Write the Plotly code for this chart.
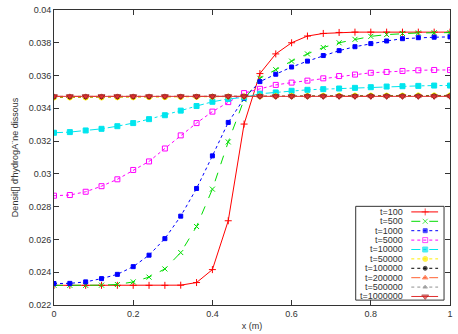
import plotly.graph_objects as go

x = [round(i * 0.04, 2) for i in range(26)]

t100 = [0.02320, 0.02320, 0.02320, 0.02320, 0.02320, 0.02320, 0.02320, 0.02320, 0.02321, 0.02337,
        0.02416, 0.02714, 0.03304, 0.03612, 0.03732, 0.03800, 0.03841, 0.03857, 0.03863, 0.03865,
        0.03865, 0.03865, 0.03865, 0.03865, 0.03865, 0.03865]
t500 = [0.02320, 0.02320, 0.02320, 0.02321, 0.02325, 0.02341, 0.02370, 0.02420, 0.02520, 0.02679,
        0.02907, 0.03195, 0.03453, 0.03583, 0.03636, 0.03688, 0.03732, 0.03771, 0.03800, 0.03821,
        0.03839, 0.03850, 0.03857, 0.03860, 0.03861, 0.03862]
t1000 = [0.02331, 0.02332, 0.02341, 0.02361, 0.02387, 0.02434, 0.02504, 0.02605, 0.02742, 0.02911,
         0.03110, 0.03314, 0.03460, 0.03563, 0.03608, 0.03652, 0.03688, 0.03722, 0.03752, 0.03776,
         0.03795, 0.03811, 0.03825, 0.03831, 0.03834, 0.03836]
t5000 = [0.02867, 0.02871, 0.02891, 0.02925, 0.02967, 0.03024, 0.03076, 0.03155, 0.03235, 0.03310,
         0.03380, 0.03438, 0.03493, 0.03519, 0.03543, 0.03557, 0.03569, 0.03583, 0.03597, 0.03606,
         0.03617, 0.03622, 0.03628, 0.03632, 0.03634, 0.03634]
t10000 = [0.03251, 0.03255, 0.03265, 0.03275, 0.03291, 0.03310, 0.03334, 0.03358, 0.03386, 0.03414,
          0.03440, 0.03457, 0.03467, 0.03489, 0.03497, 0.03507, 0.03513, 0.03517, 0.03521, 0.03525,
          0.03529, 0.03533, 0.03535, 0.03537, 0.03539, 0.03539]
t50000 = [0.03466, 0.03466, 0.03466, 0.03466, 0.03467, 0.03467, 0.03468, 0.03468, 0.03469, 0.03470,
          0.03471, 0.03472, 0.03473, 0.03474, 0.03475, 0.03476, 0.03476, 0.03477, 0.03477, 0.03478,
          0.03478, 0.03478, 0.03478, 0.03479, 0.03479, 0.03479]
t100000 = [0.03470, 0.03470, 0.03470, 0.03470, 0.03471, 0.03471, 0.03471, 0.03472, 0.03472, 0.03472,
           0.03473, 0.03473, 0.03473, 0.03474, 0.03474, 0.03474, 0.03475, 0.03475, 0.03475, 0.03475,
           0.03476, 0.03476, 0.03476, 0.03476, 0.03476, 0.03476]
t200000 = [0.03473] * 26
t500000 = [0.03473] * 26
t1000000 = [0.03473] * 26

labels = ["t=100", "t=500", "t=1000", "t=5000", "t=10000", "t=50000",
          "t=100000", "t=200000", "t=500000", "t=1000000"]
series = [t100, t500, t1000, t5000, t10000, t50000, t100000, t200000, t500000, t1000000]

styles = [
    dict(color="#ff0000", dash="solid", symbol="cross-thin-open", size=5),
    dict(color="#00dd00", dash="dash", symbol="x-thin-open", size=5),
    dict(color="#0000ff", dash="dot", symbol="square", size=4),
    dict(color="#ff00ff", dash="dot", symbol="square-open", size=5),
    dict(color="#00e5ee", dash="dashdot", symbol="square", size=5),
    dict(color="#ffee00", dash="dot", symbol="circle", size=5),
    dict(color="#000000", dash="dot", symbol="circle", size=4),
    dict(color="#ff6030", dash="dashdot", symbol="triangle-up", size=5),
    dict(color="#909090", dash="dot", symbol="triangle-up", size=4),
    dict(color="#e03030", dash="solid", symbol="triangle-down", size=6),
]


def make_marker(st, size):
    m = dict(symbol=st["symbol"], size=size, color=st["color"],
             line=dict(color=st["color"], width=1))
    if st["symbol"] == "triangle-down":
        m["line"] = dict(color="#a02020", width=1)
    return m


fig = go.Figure()
for lab, ys, st in zip(labels, series, styles):
    fig.add_trace(go.Scatter(
        x=x, y=ys, name=lab, mode="lines+markers", showlegend=False,
        line=dict(color=st["color"], width=1, dash=st["dash"]),
        marker=make_marker(st, st["size"]),
    ))

# hand-built gnuplot-style legend (text right-aligned, sample on the right)
plot_l, plot_r, plot_t, plot_b = 54, 453, 5, 307
pw, ph = plot_r - plot_l, plot_b - plot_t
def px(v):
    return (v - plot_l) / pw
def py(v):
    return (plot_b - v) / ph

box = dict(x0=px(358), x1=px(447), y0=py(302), y1=py(206))
row_top, row_step = 211.7, 9.62
text_right = px(408)
samp0, sampm, samp1 = px(414), px(428), px(441)

for i, (lab, st) in enumerate(zip(labels, styles)):
    yy = py(row_top + i * row_step)
    fig.add_trace(go.Scatter(
        x=[samp0, sampm, samp1], y=[yy, yy, yy], xaxis="x2", yaxis="y2",
        mode="lines+markers", showlegend=False, hoverinfo="skip",
        line=dict(color=st["color"], width=1, dash=st["dash"]),
        marker=dict(make_marker(st, st["size"]), size=[0, st["size"], 0]),
    ))
    fig.add_annotation(
        x=text_right, y=yy, xref="paper", yref="paper", text=lab,
        showarrow=False, xanchor="right", yanchor="middle",
        font=dict(family="Liberation Sans, Arial, sans-serif", size=9, color="#333333"),
    )

fig.add_shape(type="rect", xref="paper", yref="paper", layer="below",
              line=dict(color="#333333", width=1), fillcolor="white", **box)

ytickvals = [0.022, 0.024, 0.026, 0.028, 0.030, 0.032, 0.034, 0.036, 0.038, 0.040]
yticktext = ["0.022", "0.024", "0.026", "0.028", "0.03", "0.032", "0.034", "0.036", "0.038", "0.04"]
xtickvals = [0, 0.2, 0.4, 0.6, 0.8, 1.0]
xticktext = ["0", "0.2", "0.4", "0.6", "0.8", "1"]

font = dict(family="Liberation Sans, Arial, sans-serif", size=9, color="#333333")

fig.update_layout(
    width=458, height=334,
    margin=dict(l=54, r=5, t=5, b=27),
    paper_bgcolor="white", plot_bgcolor="white",
    font=font,
    showlegend=False,
    xaxis=dict(
        range=[0, 1], tickvals=xtickvals, ticktext=xticktext,
        ticks="inside", ticklen=5, tickcolor="#333333",
        showline=True, linecolor="#333333", linewidth=1, mirror="ticks",
        showgrid=False, zeroline=False,
        title=dict(text="x (m)", standoff=4, font=font),
    ),
    yaxis=dict(
        range=[0.022, 0.04], tickvals=ytickvals, ticktext=yticktext,
        ticks="inside", ticklen=5, tickcolor="#333333",
        showline=True, linecolor="#333333", linewidth=1, mirror="ticks",
        showgrid=False, zeroline=False,
        title=dict(text="Densit[] d'hydrogA¨ne dissous", standoff=8, font=font),
    ),
    xaxis2=dict(range=[0, 1], overlaying="x", visible=False, fixedrange=True),
    yaxis2=dict(range=[0, 1], overlaying="y", visible=False, fixedrange=True),
)

fig.write_html("out.html")
